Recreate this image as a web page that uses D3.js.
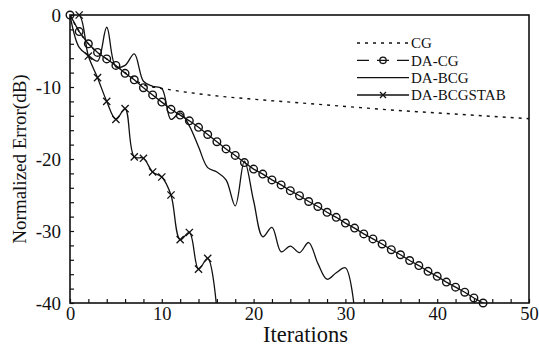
<!DOCTYPE html>
<html>
<head>
<meta charset="utf-8">
<script src="https://cdn.jsdelivr.net/npm/d3@7/dist/d3.min.js"></script>
<style>
  body { margin: 0; background: #fff; }
  text { font-family: "Liberation Serif", "Times New Roman", serif; fill: #111; }
</style>
</head>
<body>
<div class="chart"></div>
<script>
// values (normalized error in dB per iteration)
const cgIter = [0, 1, 2, 3, 4, 5, 6, 7, 8, 9, 10, 12, 15, 20, 25, 30, 35, 40, 45, 50];
const cgErr = [0, -2.3, -4.0, -5.2, -6.1, -7.0, -8.0, -8.9, -9.7, -10.0, -10.2, -10.6, -11.1, -11.7, -12.2, -12.7, -13.2, -13.6, -14.0, -14.4];

const daCgIter = d3.range(0, 46);
const daCgErr = [0, -2.3, -4.0, -5.2, -6.1, -7.0, -8.1, -9.0, -10.1, -11.1,
  -12.1, -13.1, -13.9, -14.7, -15.6, -16.6, -17.6, -18.6, -19.5, -20.5,
  -21.4, -22.1, -22.9, -23.6, -24.4, -25.1, -25.9, -26.6, -27.4, -28.1,
  -28.9, -29.6, -30.4, -31.1, -31.8, -32.6, -33.3, -34.1, -34.8, -35.6,
  -36.3, -37.1, -37.8, -38.5, -39.3, -40.0];

const bcgIter = d3.range(0, 32);
const bcgErr = [0, -4.5, -5.6, -6.4, -1.7, -7.2, -7.0, -5.4, -9.2, -9.9,
  -10.2, -14.5, -13.6, -15.4, -18.3, -21.2, -21.8, -22.9, -26.5, -20.3,
  -25.8, -30.8, -29.5, -32.9, -32.1, -33.0, -31.6, -34.5, -36.7, -35.8,
  -35.1, -41.0];

const stabIter = d3.range(0, 17);
const stabErr = [0, 0, -5.7, -8.7, -12.0, -14.5, -13.0, -19.7, -19.9, -21.8,
  -22.5, -25.0, -31.2, -30.2, -35.3, -33.8, -41.0];

const xTicks = d3.range(0, 51, 2);
const yTicks = d3.range(-40, 1, 2);
const legendNames = ["CG", "DA-CG", "DA-BCG", "DA-BCGSTAB"];

const width = 539, height = 347;
const plotLeft = 70, plotRight = 529, plotTop = 15, plotBottom = 303;

const svg = d3.select("div.chart").append("svg")
  .attr("width", width)
  .attr("height", height);

const x = d3.scaleLinear().domain([0, 50]).range([plotLeft, plotRight]);
const y = d3.scaleLinear().domain([-40, 0]).range([plotBottom, plotTop]);

svg.append("defs").append("clipPath").attr("id", "plot")
  .append("rect")
  .attr("x", plotLeft).attr("y", plotTop)
  .attr("width", plotRight - plotLeft).attr("height", plotBottom - plotTop);

// axes, ticks pointing inward
const xAxis = svg.append("g")
  .attr("transform", "translate(0," + plotBottom + ")")
  .call(d3.axisBottom(x).tickValues(xTicks).tickSize(-4).tickSizeOuter(0).tickPadding(4)
    .tickFormat(d => d % 10 === 0 ? String(d) : ""));
const yAxis = svg.append("g")
  .attr("transform", "translate(" + plotLeft + ",0)")
  .call(d3.axisLeft(y).tickValues(yTicks).tickSize(-4).tickSizeOuter(0).tickPadding(9)
    .tickFormat(d => d % 10 === 0 ? String(d) : ""));

xAxis.selectAll("text").style("font-size", "18.5px");
yAxis.selectAll("text").style("font-size", "19px");
[xAxis, yAxis].forEach(a => {
  a.selectAll("text").attr("fill", "#111");
  a.selectAll("line").attr("stroke", "#111").attr("stroke-width", 1.2);
  a.select(".domain").remove();
});

svg.append("rect")
  .attr("x", plotLeft).attr("y", plotTop)
  .attr("width", plotRight - plotLeft).attr("height", plotBottom - plotTop)
  .attr("fill", "none")
  .attr("stroke", "#111")
  .attr("stroke-width", 1.6);

svg.append("text")
  .attr("x", (plotLeft + plotRight) / 2 + 6)
  .attr("y", 342)
  .attr("text-anchor", "middle")
  .style("font-size", "22.5px")
  .text("Iterations");

svg.append("text")
  .attr("transform", "translate(26," + ((plotTop + plotBottom) / 2) + ")rotate(-90)")
  .attr("text-anchor", "middle")
  .style("font-size", "19px")
  .text("Normalized Error(dB)");

const g = svg.append("g").attr("clip-path", "url(#plot)");

function drawLine(xs, ys, curve, dash, lineWidth) {
  const line = d3.line()
    .x(d => x(d[0]))
    .y(d => y(d[1]))
    .curve(curve);
  g.append("path")
    .datum(xs.map((v, i) => [v, ys[i]]))
    .attr("d", line)
    .attr("fill", "none")
    .attr("stroke", "#111")
    .attr("stroke-width", lineWidth)
    .attr("stroke-dasharray", dash);
}

drawLine(cgIter, cgErr, d3.curveMonotoneX, "3,5", 1.4);
// dashes are hidden by the dense circles, the connectors look solid
drawLine(daCgIter, daCgErr, d3.curveLinear, null, 1.3);
drawLine(bcgIter, bcgErr, d3.curveCatmullRom, null, 1.3);
drawLine(stabIter, stabErr, d3.curveCatmullRom, null, 1.3);

// circle markers for DA-CG
svg.append("g").selectAll("circle")
  .data(daCgIter.map((v, i) => [v, daCgErr[i]]))
  .enter().append("circle")
  .attr("cx", d => x(d[0]))
  .attr("cy", d => y(d[1]))
  .attr("r", 3.8)
  .attr("fill", "none")
  .attr("stroke", "#111")
  .attr("stroke-width", 1.4);

// cross markers for DA-BCGSTAB
const cross = 3.6;
svg.append("g").selectAll("path")
  .data(stabIter.map((v, i) => [v, stabErr[i]]).filter(d => d[0] > 0 && d[1] >= -40))
  .enter().append("path")
  .attr("d", d => {
    const cx = x(d[0]), cy = y(d[1]);
    return "M" + (cx - cross) + "," + (cy - cross) + "L" + (cx + cross) + "," + (cy + cross) +
      "M" + (cx - cross) + "," + (cy + cross) + "L" + (cx + cross) + "," + (cy - cross);
  })
  .attr("stroke", "#111")
  .attr("stroke-width", 1.3);

// legend
const legend = svg.append("g");
const rowY = [43, 60.3, 77.7, 95];
const lx0 = 357, lx1 = 409;
legendNames.forEach((name, i) => {
  const ly = rowY[i];
  const ln = legend.append("line")
    .attr("x1", lx0).attr("x2", lx1)
    .attr("y1", ly).attr("y2", ly)
    .attr("stroke", "#111")
    .attr("stroke-width", 1.3);
  if (i === 0) ln.attr("stroke-dasharray", "3,5");
  if (i === 1) {
    ln.attr("stroke-dasharray", "12,8");
    legend.append("circle")
      .attr("cx", (lx0 + lx1) / 2).attr("cy", ly).attr("r", 3.2)
      .attr("fill", "none").attr("stroke", "#111").attr("stroke-width", 1.3);
  }
  if (i === 3) {
    const cx = (lx0 + lx1) / 2, c = 3;
    legend.append("path")
      .attr("d", "M" + (cx - c) + "," + (ly - c) + "L" + (cx + c) + "," + (ly + c) +
        "M" + (cx - c) + "," + (ly + c) + "L" + (cx + c) + "," + (ly - c))
      .attr("stroke", "#111").attr("stroke-width", 1.3);
  }
  legend.append("text")
    .attr("x", 411)
    .attr("y", ly)
    .attr("dy", "0.35em")
    .style("font-size", "15px")
    .text(name);
});
</script>
</body>
</html>
